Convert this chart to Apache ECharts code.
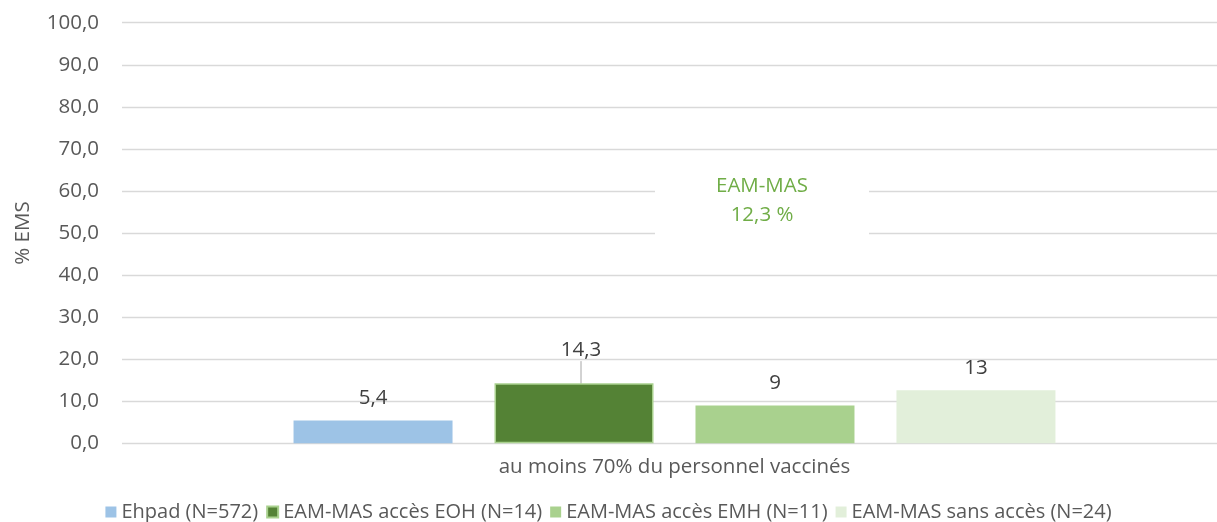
<!DOCTYPE html>
<html>
<head>
<meta charset="utf-8">
<script src="https://cdn.jsdelivr.net/npm/echarts@6/dist/echarts.min.js"></script>
<style>
  html, body { margin: 0; padding: 0; background: #fff; }
  #main { width: 1217px; height: 522px; }
</style>
</head>
<body>
<div id="main"></div>
<script>
// données
const categories = ['au moins 70% du personnel vaccinés']
const seriesNames = ['Ehpad (N=572)', 'EAM-MAS accès EOH (N=14)', 'EAM-MAS accès EMH (N=11)', 'EAM-MAS sans accès (N=24)']
const seriesValues = [5.4, 14.3, 9.0, 12.6]
const valueLabels = ['5,4', '14,3', '9', '13']
const yTicks = [0, 10, 20, 30, 40, 50, 60, 70, 80, 90, 100]
const noteLines = ['EAM-MAS', '12,3 %']

const colors = ['#9DC3E6', '#548235', '#A9D18E', '#E2EFDA']
const font = 'Open Sans'
const fs = 20.5

const chart = echarts.init(document.getElementById('main'))

const series = seriesNames.map((name, i) => {
  const s = {
    name: name,
    type: 'bar',
    barWidth: 159,
    barGap: '26.4%',
    data: [seriesValues[i]],
    itemStyle: { color: colors[i] },
    label: {
      show: true,
      position: 'top',
      distance: 12,
      color: '#404040',
      fontFamily: font,
      fontSize: fs,
      formatter: () => valueLabels[i]
    }
  }
  // barre EOH : bordure claire et étiquette déplacée avec trait
  if (i === 1) {
    s.itemStyle = { color: colors[i], borderColor: '#A9D18E', borderWidth: 1.5 }
    s.labelLayout = { dx: 7, dy: -10 }
    s.labelLine = { show: true, lineStyle: { color: '#A6A6A6', width: 1 } }
  }
  return s
})

const option = {
  animation: false,
  color: colors,
  grid: { left: 122, width: 1105, top: 22.7, bottom: 78.7, containLabel: false, outerBoundsMode: 'none' },
  xAxis: {
    type: 'category',
    data: categories,
    axisLine: { show: false },
    axisTick: { show: false },
    axisLabel: { color: '#595959', fontFamily: font, fontSize: fs, margin: 13 }
  },
  yAxis: {
    type: 'value',
    min: yTicks[0],
    max: yTicks[yTicks.length - 1],
    interval: 10,
    name: '% EMS',
    nameLocation: 'middle',
    nameGap: 88,
    nameRotate: 90,
    nameTextStyle: { color: '#595959', fontFamily: font, fontSize: fs },
    axisLine: { show: false },
    axisTick: { show: false },
    splitLine: { lineStyle: { color: '#D9D9D9', width: 1.3 } },
    axisLabel: {
      color: '#595959', fontFamily: font, fontSize: fs, margin: 23,
      formatter: v => v.toFixed(1).replace('.', ',')
    }
  },
  legend: {
    top: 497,
    left: 'center',
    itemWidth: 11,
    itemHeight: 11,
    itemGap: 8,
    icon: 'rect',
    textStyle: { color: '#595959', fontFamily: font, fontSize: 20 },
    data: seriesNames
  },
  graphic: [{
    type: 'group',
    left: 655,
    top: 165,
    z: 100,
    children: [
      { type: 'rect', z: 100, shape: { x: 0, y: 0, width: 214, height: 75 }, style: { fill: '#fff' } },
      {
        type: 'text', z: 101, x: 107, y: 36,
        style: {
          text: noteLines.join('\n'),
          fill: '#70AD47', fontFamily: font, fontSize: fs, lineHeight: 29,
          align: 'center', verticalAlign: 'middle'
        }
      }
    ]
  }],
  series: series
}

chart.setOption(option)
</script>
</body>
</html>
